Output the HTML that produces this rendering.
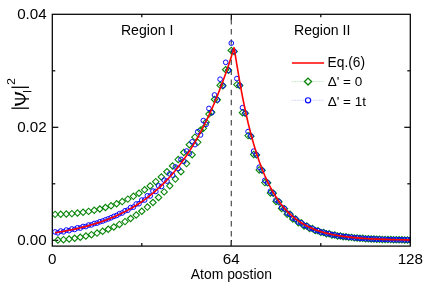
<!DOCTYPE html>
<html><head><meta charset="utf-8"><title>chart</title>
<style>html,body{margin:0;padding:0;background:#fff;}svg{display:block;}text{font-family:"Liberation Sans",sans-serif;fill:#000;}</style>
</head><body>
<svg width="436" height="287" viewBox="0 0 436 287" style="will-change:transform">
<defs><clipPath id="pc"><rect x="52.30" y="14.30" width="358.00" height="231.80"/></clipPath></defs>
<rect x="0" y="0" width="436" height="287" fill="#fff"/>
<g stroke="#000" stroke-width="1.2">
<line x1="52.30" y1="240.30" x2="58.30" y2="240.30"/>
<line x1="410.30" y1="240.30" x2="404.30" y2="240.30"/>
<line x1="52.30" y1="183.80" x2="55.30" y2="183.80"/>
<line x1="410.30" y1="183.80" x2="407.30" y2="183.80"/>
<line x1="52.30" y1="127.30" x2="58.30" y2="127.30"/>
<line x1="410.30" y1="127.30" x2="404.30" y2="127.30"/>
<line x1="52.30" y1="70.80" x2="55.30" y2="70.80"/>
<line x1="410.30" y1="70.80" x2="407.30" y2="70.80"/>
<line x1="141.80" y1="246.10" x2="141.80" y2="243.10"/>
<line x1="141.80" y1="14.30" x2="141.80" y2="17.30"/>
<line x1="231.30" y1="246.10" x2="231.30" y2="240.10"/>
<line x1="231.30" y1="14.30" x2="231.30" y2="20.30"/>
<line x1="320.80" y1="246.10" x2="320.80" y2="243.10"/>
<line x1="320.80" y1="14.30" x2="320.80" y2="17.30"/>
</g>
<line x1="231.30" y1="8.9" x2="231.30" y2="246.10" stroke="#4a4a4a" stroke-width="1.2" stroke-dasharray="5.5 4.6" clip-path="url(#pc)"/>
<g clip-path="url(#pc)">
<polyline points="55.10,214.36 57.89,240.06 60.69,214.28 63.49,239.65 66.28,214.03 69.08,239.04 71.88,213.63 74.67,238.24 77.47,213.05 80.27,237.25 83.07,212.31 85.86,236.06 88.66,211.39 91.46,234.68 94.25,210.29 97.05,233.08 99.85,208.99 102.64,231.27 105.44,207.49 108.24,229.24 111.03,205.77 113.83,226.96 116.63,203.81 119.42,224.42 122.22,201.60 125.02,221.61 127.82,199.12 130.61,218.49 133.41,196.34 136.21,215.06 139.00,193.23 141.80,211.26 144.60,189.78 147.39,207.09 150.19,185.94 152.99,202.49 155.78,181.67 158.58,197.44 161.38,176.95 164.18,191.88 166.97,171.72 169.77,185.78 172.57,165.94 175.36,179.07 178.16,159.55 180.96,171.70 183.75,152.50 186.55,163.60 189.35,144.71 192.14,154.71 194.94,137.18 197.74,142.36 200.53,130.24 203.33,128.36 206.13,122.13 208.93,114.10 211.72,112.14 214.52,99.44 217.32,99.86 220.11,85.29 222.91,85.76 225.71,69.73 228.50,70.24 231.30,50.45 234.10,51.40 236.89,84.62 239.69,85.40 242.49,112.65 245.28,113.28 248.08,135.62 250.88,136.14 253.68,154.47 256.47,154.89 259.27,169.92 262.07,170.27 264.86,182.59 267.66,182.87 270.46,192.97 273.25,193.21 276.05,201.49 278.85,201.69 281.64,208.48 284.44,208.64 287.24,214.21 290.03,214.34 292.83,218.90 295.63,219.01 298.43,222.75 301.22,222.84 304.02,225.91 306.82,225.98 309.61,228.50 312.41,228.56 315.21,230.63 318.00,230.67 320.80,232.37 323.60,232.41 326.39,233.80 329.19,233.83 331.99,234.97 334.78,234.99 337.58,235.93 340.38,235.95 343.18,236.71 345.97,236.73 348.77,237.36 351.57,237.37 354.36,237.89 357.16,237.90 359.96,238.32 362.75,238.33 365.55,238.68 368.35,238.69 371.14,238.97 373.94,238.98 376.74,239.21 379.53,239.22 382.33,239.41 385.13,239.41 387.93,239.57 390.72,239.57 393.52,239.70 396.32,239.70 399.11,239.81 401.91,239.81 404.71,239.90 407.50,239.90 410.30,239.97" fill="none" stroke="#cfe8cf" stroke-width="0.4" opacity="0.2"/>
<polyline points="55.10,231.92 57.89,232.85 60.69,231.03 63.49,231.82 66.28,230.05 69.08,230.69 71.88,228.97 74.67,229.44 77.47,227.79 80.27,228.07 83.07,226.49 85.86,226.55 88.66,225.07 91.46,224.89 94.25,223.50 97.05,223.06 99.85,221.77 102.64,221.05 105.44,219.87 108.24,218.84 111.03,217.78 113.83,216.41 116.63,215.48 119.42,213.73 122.22,212.95 125.02,210.79 127.82,210.17 130.61,207.56 133.41,207.10 136.21,204.01 139.00,203.73 141.80,200.10 144.60,200.02 147.39,195.80 150.19,195.94 152.99,191.08 155.78,191.45 158.58,185.88 161.38,186.51 164.18,180.17 166.97,181.08 169.77,173.89 172.57,175.10 175.36,166.98 178.16,168.52 180.96,159.39 183.75,161.29 186.55,151.04 189.35,153.33 192.14,141.85 194.94,144.57 197.74,131.75 200.53,134.94 203.33,120.64 206.13,124.34 208.93,108.43 211.72,112.68 214.52,94.99 217.32,99.86 220.11,79.21 222.91,85.76 225.71,62.31 228.50,70.24 231.30,43.12 234.10,51.40 236.89,78.61 239.69,85.40 242.49,107.71 245.28,113.28 248.08,131.58 250.88,136.14 253.68,151.15 256.47,154.89 259.27,167.20 262.07,170.27 264.86,180.35 267.66,182.87 270.46,191.14 273.25,193.21 276.05,199.99 278.85,201.69 281.64,207.25 284.44,208.64 287.24,213.20 290.03,214.34 292.83,218.08 295.63,219.01 298.43,222.08 301.22,222.84 304.02,225.36 306.82,225.98 309.61,228.05 312.41,228.56 315.21,230.25 318.00,230.67 320.80,232.06 323.60,232.41 326.39,233.54 329.19,233.83 331.99,234.76 334.78,234.99 337.58,235.76 340.38,235.95 343.18,236.57 345.97,236.73 348.77,237.25 351.57,237.37 354.36,237.80 357.16,237.90 359.96,238.25 362.75,238.33 365.55,238.62 368.35,238.69 371.14,238.92 373.94,238.98 376.74,239.17 379.53,239.22 382.33,239.37 385.13,239.41 387.93,239.54 390.72,239.57 393.52,239.68 396.32,239.70 399.11,239.79 401.91,239.81 404.71,239.88 407.50,239.90 410.30,239.96" fill="none" stroke="#d0d0ff" stroke-width="0.4" opacity="0.2"/>
<g fill="#fff" fill-opacity="0" stroke="#0a860a" stroke-width="1.1">
<path d="M51.90 214.36L55.10 211.16L58.30 214.36L55.10 217.56Z"/>
<path d="M54.69 240.06L57.89 236.86L61.09 240.06L57.89 243.26Z"/>
<path d="M57.49 214.28L60.69 211.08L63.89 214.28L60.69 217.48Z"/>
<path d="M60.29 239.65L63.49 236.45L66.69 239.65L63.49 242.85Z"/>
<path d="M63.08 214.03L66.28 210.83L69.48 214.03L66.28 217.23Z"/>
<path d="M65.88 239.04L69.08 235.84L72.28 239.04L69.08 242.24Z"/>
<path d="M68.68 213.63L71.88 210.43L75.08 213.63L71.88 216.83Z"/>
<path d="M71.47 238.24L74.67 235.04L77.88 238.24L74.67 241.44Z"/>
<path d="M74.27 213.05L77.47 209.85L80.67 213.05L77.47 216.25Z"/>
<path d="M77.07 237.25L80.27 234.05L83.47 237.25L80.27 240.45Z"/>
<path d="M79.87 212.31L83.07 209.11L86.27 212.31L83.07 215.51Z"/>
<path d="M82.66 236.06L85.86 232.86L89.06 236.06L85.86 239.26Z"/>
<path d="M85.46 211.39L88.66 208.19L91.86 211.39L88.66 214.59Z"/>
<path d="M88.26 234.68L91.46 231.48L94.66 234.68L91.46 237.88Z"/>
<path d="M91.05 210.29L94.25 207.09L97.45 210.29L94.25 213.49Z"/>
<path d="M93.85 233.08L97.05 229.88L100.25 233.08L97.05 236.28Z"/>
<path d="M96.65 208.99L99.85 205.79L103.05 208.99L99.85 212.19Z"/>
<path d="M99.44 231.27L102.64 228.07L105.84 231.27L102.64 234.47Z"/>
<path d="M102.24 207.49L105.44 204.29L108.64 207.49L105.44 210.69Z"/>
<path d="M105.04 229.24L108.24 226.04L111.44 229.24L108.24 232.44Z"/>
<path d="M107.83 205.77L111.03 202.57L114.23 205.77L111.03 208.97Z"/>
<path d="M110.63 226.96L113.83 223.76L117.03 226.96L113.83 230.16Z"/>
<path d="M113.43 203.81L116.63 200.61L119.83 203.81L116.63 207.01Z"/>
<path d="M116.22 224.42L119.42 221.22L122.62 224.42L119.42 227.62Z"/>
<path d="M119.02 201.60L122.22 198.40L125.42 201.60L122.22 204.80Z"/>
<path d="M121.82 221.61L125.02 218.41L128.22 221.61L125.02 224.81Z"/>
<path d="M124.62 199.12L127.82 195.92L131.02 199.12L127.82 202.32Z"/>
<path d="M127.41 218.49L130.61 215.29L133.81 218.49L130.61 221.69Z"/>
<path d="M130.21 196.34L133.41 193.14L136.61 196.34L133.41 199.54Z"/>
<path d="M133.01 215.06L136.21 211.86L139.41 215.06L136.21 218.26Z"/>
<path d="M135.80 193.23L139.00 190.03L142.20 193.23L139.00 196.43Z"/>
<path d="M138.60 211.26L141.80 208.06L145.00 211.26L141.80 214.46Z"/>
<path d="M141.40 189.78L144.60 186.58L147.80 189.78L144.60 192.98Z"/>
<path d="M144.19 207.09L147.39 203.89L150.59 207.09L147.39 210.29Z"/>
<path d="M146.99 185.94L150.19 182.74L153.39 185.94L150.19 189.14Z"/>
<path d="M149.79 202.49L152.99 199.29L156.19 202.49L152.99 205.69Z"/>
<path d="M152.58 181.67L155.78 178.47L158.98 181.67L155.78 184.87Z"/>
<path d="M155.38 197.44L158.58 194.24L161.78 197.44L158.58 200.64Z"/>
<path d="M158.18 176.95L161.38 173.75L164.58 176.95L161.38 180.15Z"/>
<path d="M160.98 191.88L164.18 188.68L167.38 191.88L164.18 195.08Z"/>
<path d="M163.77 171.72L166.97 168.52L170.17 171.72L166.97 174.92Z"/>
<path d="M166.57 185.78L169.77 182.58L172.97 185.78L169.77 188.98Z"/>
<path d="M169.37 165.94L172.57 162.74L175.77 165.94L172.57 169.14Z"/>
<path d="M172.16 179.07L175.36 175.87L178.56 179.07L175.36 182.27Z"/>
<path d="M174.96 159.55L178.16 156.35L181.36 159.55L178.16 162.75Z"/>
<path d="M177.76 171.70L180.96 168.50L184.16 171.70L180.96 174.90Z"/>
<path d="M180.55 152.50L183.75 149.30L186.95 152.50L183.75 155.70Z"/>
<path d="M183.35 163.60L186.55 160.40L189.75 163.60L186.55 166.80Z"/>
<path d="M186.15 144.71L189.35 141.51L192.55 144.71L189.35 147.91Z"/>
<path d="M188.94 154.71L192.14 151.51L195.34 154.71L192.14 157.91Z"/>
<path d="M191.74 137.18L194.94 133.98L198.14 137.18L194.94 140.38Z"/>
<path d="M194.54 142.36L197.74 139.16L200.94 142.36L197.74 145.56Z"/>
<path d="M197.33 130.24L200.53 127.04L203.73 130.24L200.53 133.44Z"/>
<path d="M200.13 128.36L203.33 125.16L206.53 128.36L203.33 131.56Z"/>
<path d="M202.93 122.13L206.13 118.93L209.33 122.13L206.13 125.33Z"/>
<path d="M205.73 114.10L208.93 110.90L212.12 114.10L208.93 117.30Z"/>
<path d="M208.52 112.14L211.72 108.94L214.92 112.14L211.72 115.34Z"/>
<path d="M211.32 99.44L214.52 96.24L217.72 99.44L214.52 102.64Z"/>
<path d="M214.12 99.86L217.32 96.66L220.52 99.86L217.32 103.06Z"/>
<path d="M216.91 85.29L220.11 82.09L223.31 85.29L220.11 88.49Z"/>
<path d="M219.71 85.76L222.91 82.56L226.11 85.76L222.91 88.96Z"/>
<path d="M222.51 69.73L225.71 66.53L228.91 69.73L225.71 72.93Z"/>
<path d="M225.30 70.24L228.50 67.04L231.70 70.24L228.50 73.44Z"/>
<path d="M228.10 50.45L231.30 47.25L234.50 50.45L231.30 53.65Z"/>
<path d="M230.90 51.40L234.10 48.20L237.30 51.40L234.10 54.60Z"/>
<path d="M233.69 84.62L236.89 81.42L240.09 84.62L236.89 87.82Z"/>
<path d="M236.49 85.40L239.69 82.20L242.89 85.40L239.69 88.60Z"/>
<path d="M239.29 112.65L242.49 109.45L245.69 112.65L242.49 115.85Z"/>
<path d="M242.08 113.28L245.28 110.08L248.48 113.28L245.28 116.48Z"/>
<path d="M244.88 135.62L248.08 132.42L251.28 135.62L248.08 138.82Z"/>
<path d="M247.68 136.14L250.88 132.94L254.08 136.14L250.88 139.34Z"/>
<path d="M250.48 154.47L253.68 151.27L256.88 154.47L253.68 157.67Z"/>
<path d="M253.27 154.89L256.47 151.69L259.67 154.89L256.47 158.09Z"/>
<path d="M256.07 169.92L259.27 166.72L262.47 169.92L259.27 173.12Z"/>
<path d="M258.87 170.27L262.07 167.07L265.27 170.27L262.07 173.47Z"/>
<path d="M261.66 182.59L264.86 179.39L268.06 182.59L264.86 185.79Z"/>
<path d="M264.46 182.87L267.66 179.67L270.86 182.87L267.66 186.07Z"/>
<path d="M267.26 192.97L270.46 189.77L273.66 192.97L270.46 196.17Z"/>
<path d="M270.05 193.21L273.25 190.01L276.45 193.21L273.25 196.41Z"/>
<path d="M272.85 201.49L276.05 198.29L279.25 201.49L276.05 204.69Z"/>
<path d="M275.65 201.69L278.85 198.49L282.05 201.69L278.85 204.89Z"/>
<path d="M278.44 208.48L281.64 205.28L284.84 208.48L281.64 211.68Z"/>
<path d="M281.24 208.64L284.44 205.44L287.64 208.64L284.44 211.84Z"/>
<path d="M284.04 214.21L287.24 211.01L290.44 214.21L287.24 217.41Z"/>
<path d="M286.83 214.34L290.03 211.14L293.23 214.34L290.03 217.54Z"/>
<path d="M289.63 218.90L292.83 215.70L296.03 218.90L292.83 222.10Z"/>
<path d="M292.43 219.01L295.63 215.81L298.83 219.01L295.63 222.21Z"/>
<path d="M295.23 222.75L298.43 219.55L301.62 222.75L298.43 225.95Z"/>
<path d="M298.02 222.84L301.22 219.64L304.42 222.84L301.22 226.04Z"/>
<path d="M300.82 225.91L304.02 222.71L307.22 225.91L304.02 229.11Z"/>
<path d="M303.62 225.98L306.82 222.78L310.02 225.98L306.82 229.18Z"/>
<path d="M306.41 228.50L309.61 225.30L312.81 228.50L309.61 231.70Z"/>
<path d="M309.21 228.56L312.41 225.36L315.61 228.56L312.41 231.76Z"/>
<path d="M312.01 230.63L315.21 227.43L318.41 230.63L315.21 233.83Z"/>
<path d="M314.80 230.67L318.00 227.47L321.20 230.67L318.00 233.87Z"/>
<path d="M317.60 232.37L320.80 229.17L324.00 232.37L320.80 235.57Z"/>
<path d="M320.40 232.41L323.60 229.21L326.80 232.41L323.60 235.61Z"/>
<path d="M323.19 233.80L326.39 230.60L329.59 233.80L326.39 237.00Z"/>
<path d="M325.99 233.83L329.19 230.63L332.39 233.83L329.19 237.03Z"/>
<path d="M328.79 234.97L331.99 231.77L335.19 234.97L331.99 238.17Z"/>
<path d="M331.58 234.99L334.78 231.79L337.98 234.99L334.78 238.19Z"/>
<path d="M334.38 235.93L337.58 232.73L340.78 235.93L337.58 239.13Z"/>
<path d="M337.18 235.95L340.38 232.75L343.58 235.95L340.38 239.15Z"/>
<path d="M339.98 236.71L343.18 233.51L346.38 236.71L343.18 239.91Z"/>
<path d="M342.77 236.73L345.97 233.53L349.17 236.73L345.97 239.93Z"/>
<path d="M345.57 237.36L348.77 234.16L351.97 237.36L348.77 240.56Z"/>
<path d="M348.37 237.37L351.57 234.17L354.77 237.37L351.57 240.57Z"/>
<path d="M351.16 237.89L354.36 234.69L357.56 237.89L354.36 241.09Z"/>
<path d="M353.96 237.90L357.16 234.70L360.36 237.90L357.16 241.10Z"/>
<path d="M356.76 238.32L359.96 235.12L363.16 238.32L359.96 241.52Z"/>
<path d="M359.55 238.33L362.75 235.13L365.95 238.33L362.75 241.53Z"/>
<path d="M362.35 238.68L365.55 235.48L368.75 238.68L365.55 241.88Z"/>
<path d="M365.15 238.69L368.35 235.49L371.55 238.69L368.35 241.89Z"/>
<path d="M367.94 238.97L371.14 235.77L374.34 238.97L371.14 242.17Z"/>
<path d="M370.74 238.98L373.94 235.78L377.14 238.98L373.94 242.18Z"/>
<path d="M373.54 239.21L376.74 236.01L379.94 239.21L376.74 242.41Z"/>
<path d="M376.33 239.22L379.53 236.02L382.73 239.22L379.53 242.42Z"/>
<path d="M379.13 239.41L382.33 236.21L385.53 239.41L382.33 242.61Z"/>
<path d="M381.93 239.41L385.13 236.21L388.33 239.41L385.13 242.61Z"/>
<path d="M384.73 239.57L387.93 236.37L391.12 239.57L387.93 242.77Z"/>
<path d="M387.52 239.57L390.72 236.37L393.92 239.57L390.72 242.77Z"/>
<path d="M390.32 239.70L393.52 236.50L396.72 239.70L393.52 242.90Z"/>
<path d="M393.12 239.70L396.32 236.50L399.52 239.70L396.32 242.90Z"/>
<path d="M395.91 239.81L399.11 236.61L402.31 239.81L399.11 243.01Z"/>
<path d="M398.71 239.81L401.91 236.61L405.11 239.81L401.91 243.01Z"/>
<path d="M401.51 239.90L404.71 236.70L407.91 239.90L404.71 243.10Z"/>
<path d="M404.30 239.90L407.50 236.70L410.70 239.90L407.50 243.10Z"/>
<path d="M407.10 239.97L410.30 236.77L413.50 239.97L410.30 243.17Z"/>
</g>
<g fill="none" stroke="#0808ff" stroke-width="1.0">
<circle cx="55.10" cy="231.92" r="2.35"/>
<circle cx="57.89" cy="232.85" r="2.35"/>
<circle cx="60.69" cy="231.03" r="2.35"/>
<circle cx="63.49" cy="231.82" r="2.35"/>
<circle cx="66.28" cy="230.05" r="2.35"/>
<circle cx="69.08" cy="230.69" r="2.35"/>
<circle cx="71.88" cy="228.97" r="2.35"/>
<circle cx="74.67" cy="229.44" r="2.35"/>
<circle cx="77.47" cy="227.79" r="2.35"/>
<circle cx="80.27" cy="228.07" r="2.35"/>
<circle cx="83.07" cy="226.49" r="2.35"/>
<circle cx="85.86" cy="226.55" r="2.35"/>
<circle cx="88.66" cy="225.07" r="2.35"/>
<circle cx="91.46" cy="224.89" r="2.35"/>
<circle cx="94.25" cy="223.50" r="2.35"/>
<circle cx="97.05" cy="223.06" r="2.35"/>
<circle cx="99.85" cy="221.77" r="2.35"/>
<circle cx="102.64" cy="221.05" r="2.35"/>
<circle cx="105.44" cy="219.87" r="2.35"/>
<circle cx="108.24" cy="218.84" r="2.35"/>
<circle cx="111.03" cy="217.78" r="2.35"/>
<circle cx="113.83" cy="216.41" r="2.35"/>
<circle cx="116.63" cy="215.48" r="2.35"/>
<circle cx="119.42" cy="213.73" r="2.35"/>
<circle cx="122.22" cy="212.95" r="2.35"/>
<circle cx="125.02" cy="210.79" r="2.35"/>
<circle cx="127.82" cy="210.17" r="2.35"/>
<circle cx="130.61" cy="207.56" r="2.35"/>
<circle cx="133.41" cy="207.10" r="2.35"/>
<circle cx="136.21" cy="204.01" r="2.35"/>
<circle cx="139.00" cy="203.73" r="2.35"/>
<circle cx="141.80" cy="200.10" r="2.35"/>
<circle cx="144.60" cy="200.02" r="2.35"/>
<circle cx="147.39" cy="195.80" r="2.35"/>
<circle cx="150.19" cy="195.94" r="2.35"/>
<circle cx="152.99" cy="191.08" r="2.35"/>
<circle cx="155.78" cy="191.45" r="2.35"/>
<circle cx="158.58" cy="185.88" r="2.35"/>
<circle cx="161.38" cy="186.51" r="2.35"/>
<circle cx="164.18" cy="180.17" r="2.35"/>
<circle cx="166.97" cy="181.08" r="2.35"/>
<circle cx="169.77" cy="173.89" r="2.35"/>
<circle cx="172.57" cy="175.10" r="2.35"/>
<circle cx="175.36" cy="166.98" r="2.35"/>
<circle cx="178.16" cy="168.52" r="2.35"/>
<circle cx="180.96" cy="159.39" r="2.35"/>
<circle cx="183.75" cy="161.29" r="2.35"/>
<circle cx="186.55" cy="151.04" r="2.35"/>
<circle cx="189.35" cy="153.33" r="2.35"/>
<circle cx="192.14" cy="141.85" r="2.35"/>
<circle cx="194.94" cy="144.57" r="2.35"/>
<circle cx="197.74" cy="131.75" r="2.35"/>
<circle cx="200.53" cy="134.94" r="2.35"/>
<circle cx="203.33" cy="120.64" r="2.35"/>
<circle cx="206.13" cy="124.34" r="2.35"/>
<circle cx="208.93" cy="108.43" r="2.35"/>
<circle cx="211.72" cy="112.68" r="2.35"/>
<circle cx="214.52" cy="94.99" r="2.35"/>
<circle cx="217.32" cy="99.86" r="2.35"/>
<circle cx="220.11" cy="79.21" r="2.35"/>
<circle cx="222.91" cy="85.76" r="2.35"/>
<circle cx="225.71" cy="62.31" r="2.35"/>
<circle cx="228.50" cy="70.24" r="2.35"/>
<circle cx="231.30" cy="43.12" r="2.35"/>
<circle cx="234.10" cy="51.40" r="2.35"/>
<circle cx="236.89" cy="78.61" r="2.35"/>
<circle cx="239.69" cy="85.40" r="2.35"/>
<circle cx="242.49" cy="107.71" r="2.35"/>
<circle cx="245.28" cy="113.28" r="2.35"/>
<circle cx="248.08" cy="131.58" r="2.35"/>
<circle cx="250.88" cy="136.14" r="2.35"/>
<circle cx="253.68" cy="151.15" r="2.35"/>
<circle cx="256.47" cy="154.89" r="2.35"/>
<circle cx="259.27" cy="167.20" r="2.35"/>
<circle cx="262.07" cy="170.27" r="2.35"/>
<circle cx="264.86" cy="180.35" r="2.35"/>
<circle cx="267.66" cy="182.87" r="2.35"/>
<circle cx="270.46" cy="191.14" r="2.35"/>
<circle cx="273.25" cy="193.21" r="2.35"/>
<circle cx="276.05" cy="199.99" r="2.35"/>
<circle cx="278.85" cy="201.69" r="2.35"/>
<circle cx="281.64" cy="207.25" r="2.35"/>
<circle cx="284.44" cy="208.64" r="2.35"/>
<circle cx="287.24" cy="213.20" r="2.35"/>
<circle cx="290.03" cy="214.34" r="2.35"/>
<circle cx="292.83" cy="218.08" r="2.35"/>
<circle cx="295.63" cy="219.01" r="2.35"/>
<circle cx="298.43" cy="222.08" r="2.35"/>
<circle cx="301.22" cy="222.84" r="2.35"/>
<circle cx="304.02" cy="225.36" r="2.35"/>
<circle cx="306.82" cy="225.98" r="2.35"/>
<circle cx="309.61" cy="228.05" r="2.35"/>
<circle cx="312.41" cy="228.56" r="2.35"/>
<circle cx="315.21" cy="230.25" r="2.35"/>
<circle cx="318.00" cy="230.67" r="2.35"/>
<circle cx="320.80" cy="232.06" r="2.35"/>
<circle cx="323.60" cy="232.41" r="2.35"/>
<circle cx="326.39" cy="233.54" r="2.35"/>
<circle cx="329.19" cy="233.83" r="2.35"/>
<circle cx="331.99" cy="234.76" r="2.35"/>
<circle cx="334.78" cy="234.99" r="2.35"/>
<circle cx="337.58" cy="235.76" r="2.35"/>
<circle cx="340.38" cy="235.95" r="2.35"/>
<circle cx="343.18" cy="236.57" r="2.35"/>
<circle cx="345.97" cy="236.73" r="2.35"/>
<circle cx="348.77" cy="237.25" r="2.35"/>
<circle cx="351.57" cy="237.37" r="2.35"/>
<circle cx="354.36" cy="237.80" r="2.35"/>
<circle cx="357.16" cy="237.90" r="2.35"/>
<circle cx="359.96" cy="238.25" r="2.35"/>
<circle cx="362.75" cy="238.33" r="2.35"/>
<circle cx="365.55" cy="238.62" r="2.35"/>
<circle cx="368.35" cy="238.69" r="2.35"/>
<circle cx="371.14" cy="238.92" r="2.35"/>
<circle cx="373.94" cy="238.98" r="2.35"/>
<circle cx="376.74" cy="239.17" r="2.35"/>
<circle cx="379.53" cy="239.22" r="2.35"/>
<circle cx="382.33" cy="239.37" r="2.35"/>
<circle cx="385.13" cy="239.41" r="2.35"/>
<circle cx="387.93" cy="239.54" r="2.35"/>
<circle cx="390.72" cy="239.57" r="2.35"/>
<circle cx="393.52" cy="239.68" r="2.35"/>
<circle cx="396.32" cy="239.70" r="2.35"/>
<circle cx="399.11" cy="239.79" r="2.35"/>
<circle cx="401.91" cy="239.81" r="2.35"/>
<circle cx="404.71" cy="239.88" r="2.35"/>
<circle cx="407.50" cy="239.90" r="2.35"/>
<circle cx="410.30" cy="239.96" r="2.35"/>
</g>
<polyline points="55.10,232.76 57.89,232.31 60.69,231.83 63.49,231.34 66.28,230.82 69.08,230.27 71.88,229.70 74.67,229.10 77.47,228.48 80.27,227.82 83.07,227.13 85.86,226.40 88.66,225.64 91.46,224.84 94.25,224.01 97.05,223.13 99.85,222.21 102.64,221.25 105.44,220.23 108.24,219.17 111.03,218.06 113.83,216.89 116.63,215.67 119.42,214.39 122.22,213.04 125.02,211.63 127.82,210.15 130.61,208.60 133.41,206.97 136.21,205.26 139.00,203.47 141.80,201.59 144.60,199.62 147.39,197.56 150.19,195.39 152.99,193.12 155.78,190.73 158.58,188.24 161.38,185.62 164.18,182.87 166.97,179.98 169.77,176.96 172.57,173.79 175.36,170.47 178.16,166.98 180.96,163.32 183.75,159.49 186.55,155.46 189.35,151.24 192.14,146.82 194.94,142.18 197.74,137.31 200.53,132.21 203.33,126.86 206.13,121.25 208.93,115.36 211.72,109.19 214.52,102.71 217.32,95.92 220.11,88.80 222.91,81.33 225.71,73.50 228.50,65.28 231.30,56.67 234.10,47.64 236.89,64.95 239.69,81.63 242.49,96.73 245.28,110.40 248.08,122.76 250.88,133.94 253.68,144.06 256.47,153.22 259.27,161.51 262.07,169.01 264.86,175.79 267.66,181.93 270.46,187.48 273.25,192.51 276.05,197.06 278.85,201.17 281.64,204.90 284.44,208.27 287.24,211.31 290.03,214.07 292.83,216.57 295.63,218.83 298.43,220.87 301.22,222.72 304.02,224.39 306.82,225.91 309.61,227.28 312.41,228.52 315.21,229.64 318.00,230.65 320.80,231.57 323.60,232.40 326.39,233.15 329.19,233.83 331.99,234.45 334.78,235.00 337.58,235.51 340.38,235.96 343.18,236.38 345.97,236.75 348.77,237.09 351.57,237.39 354.36,237.67 357.16,237.92 359.96,238.15 362.75,238.35 365.55,238.54 368.35,238.71 371.14,238.86 373.94,238.99 376.74,239.12 379.53,239.23 382.33,239.33 385.13,239.42 387.93,239.51 390.72,239.58 393.52,239.65 396.32,239.71 399.11,239.77 401.91,239.82 404.71,239.87 407.50,239.91 410.30,239.94" fill="none" stroke="#ff0000" stroke-width="1.6" stroke-linejoin="round"/>
</g>
<rect x="52.30" y="14.30" width="358.00" height="231.80" fill="none" stroke="#000" stroke-width="1.25"/>
<g font-size="15.2px">
<text x="46.7" y="245.30" text-anchor="end">0.00</text>
<text x="46.7" y="132.30" text-anchor="end">0.02</text>
<text x="46.7" y="19.30" text-anchor="end">0.04</text>
<text x="52.30" y="263.8" text-anchor="middle">0</text>
<text x="231.30" y="263.8" text-anchor="middle">64</text>
<text x="410.30" y="263.8" text-anchor="middle">128</text>
</g>
<text x="231.4" y="279.1" font-size="13.9px" text-anchor="middle">Atom postion</text>
<g stroke="#000" fill="none" stroke-width="1.3">
<line x1="11.4" y1="87.3" x2="29" y2="87.3"/>
<line x1="11.4" y1="108.2" x2="29" y2="108.2"/>
<line x1="14.8" y1="98.9" x2="29" y2="98.9" stroke-width="1.25"/>
<line x1="23" y1="91.5" x2="31.4" y2="91.5" stroke-width="0.95"/>
</g>
<path d="M14.7 91.6 C15.6 91.9 16.4 92.2 17.4 92.4 C21.6 93.2 25.7 95.0 25.7 98.9 C25.7 102.8 21.6 104.6 17.4 105.4 C16.4 105.6 15.6 105.9 14.7 106.2 L15.1 103.6 C19.6 103.3 24.3 102.2 24.3 98.9 C24.3 95.6 19.6 94.5 15.1 94.2 Z" fill="#000"/>
<text transform="translate(14.6,85.0) rotate(-90) scale(1.2,1)" x="0" y="0" font-size="10.5px">2</text>
<text x="120.9" y="34.5" font-size="14.1px">Region I</text>
<text x="294.0" y="34.5" font-size="14.1px">Region II</text>
<line x1="291.9" y1="63" x2="324.1" y2="63" stroke="#ff0000" stroke-width="1.7"/>
<line x1="291.9" y1="81.6" x2="324.1" y2="81.6" stroke="#a8d8a8" stroke-width="0.7" stroke-dasharray="1 0.6"/>
<line x1="291.9" y1="100.3" x2="324.1" y2="100.3" stroke="#b8b8ff" stroke-width="0.7" stroke-dasharray="1 0.6"/>
<path d="M304.55 81.60L308.05 78.10L311.55 81.60L308.05 85.10Z" fill="#fff" stroke="#0a860a" stroke-width="1.35"/>
<circle cx="308.05" cy="100.3" r="2.6" fill="#fff" stroke="#0808ff" stroke-width="1.15"/>
<g font-size="13.5px">
<text x="327.6" y="67.0" font-size="13.75px">Eq.(6)</text>
<text x="327.7" y="86.2">&#916;' = 0</text>
<text x="327.7" y="105.6">&#916;' = 1t</text>
</g>
</svg></body></html>
